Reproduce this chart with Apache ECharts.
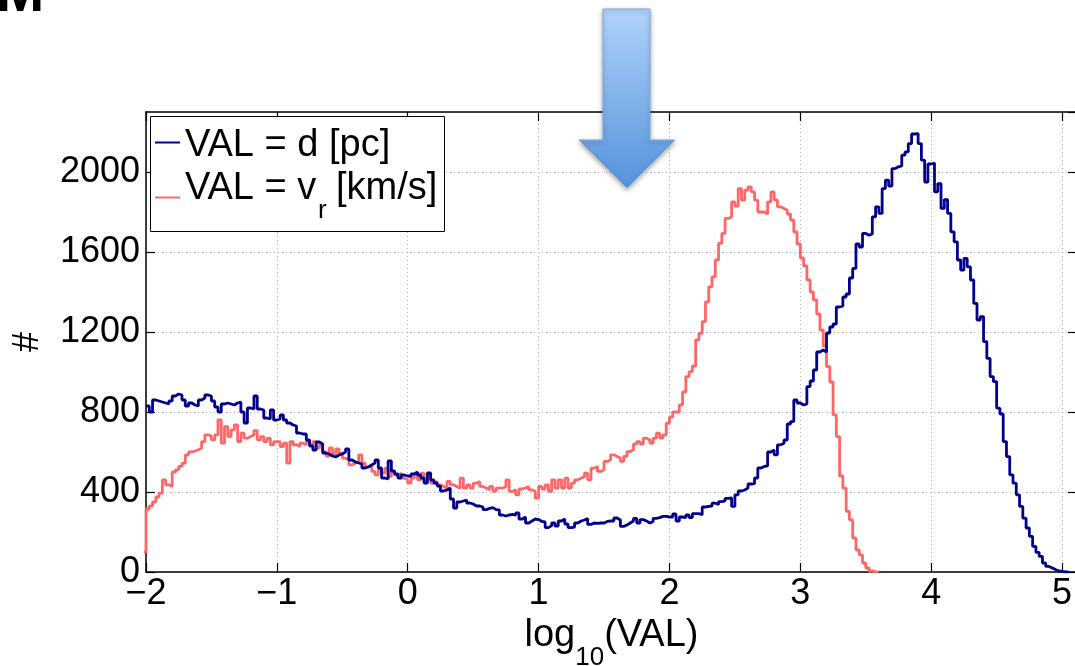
<!DOCTYPE html>
<html><head><meta charset="utf-8">
<script src="https://cdn.jsdelivr.net/npm/echarts@6/dist/echarts.min.js"></script>
<style>html,body{margin:0;padding:0;background:#fff}#c{width:1075px;height:666px}</style>
</head><body><div id="c"></div>
<script>
// Histogram bin width (log10 units)
const binWidth = 0.025;
// VAL = d [pc]  (bins start at -2)
const dStart = -2;
const dCounts = [
830,800,860,855,850,845,840,855,880,890, 885,860,830,845,835,830,860,870,885,880, 855,825,800,840,845,840,835,845,850,800, 745,820,815,880,815,810,770,765,810,760,
765,785,760,745,735,730,695,690,690,660, 630,610,650,640,595,590,580,575,585,590, 600,615,560,550,545,540,520,525,535,545, 560,520,470,465,555,505,490,470,485,480,
478,490,500,485,470,445,495,460,445,430, 405,410,420,365,320,350,355,360,345,340, 330,330,325,312,318,322,312,310,285,280, 285,288,284,295,265,275,245,255,265,262,
253,250,222,232,245,230,255,265,240,222, 225,245,255,260,268,238,245,243,245,245, 253,255,255,270,260,228,235,245,255,268, 245,262,255,245,253,268,272,278,278,275,
275,290,255,275,272,285,272,292,292,286, 325,328,330,344,338,352,356,368,370,328, 386,405,410,420,440,442,470,520,528,531, 600,610,586,636,644,660,740,752,860,845,
835,840,927,955,1010,1100,1110,1100,1195,1225, 1240,1325,1330,1375,1390,1470,1518,1640,1625,1693, 1684,1690,1776,1826,1793,1917,1959,1930,2017,2026, 2030,2084,2101,2142,2190,2192,2142,2059,1950,2040,
2045,1901,1942,1818,1862,1793,1701,1651,1560,1510, 1568,1526,1460,1343,1260,1277,1152,1068,977,952, 819,790,652,577,486,444,386,328,269,220, 178,128,98,78,45,28,20,12,5,3,
0,0
];
// VAL = v_r [km/s]  (first bin lies just left of the axis)
const vStart = -2.025;
const vCounts = [
100,
315,330,350,375,394,461,436,428,500,511, 528,544,586,600,605,611,619,652,686,680, 661,686,761,644,727,677,711,736,652,694, 669,677,686,707,661,677,652,669,636,652,
652,627,644,544,652,636,627,644,636,652, 636,652,619,636,602,580,620,590,615,594, 569,561,536,544,552,586,544,527,535,503, 486,511,494,519,478,503,486,494,469,461,
444,469,486,461,494,453,486,444,453,436, 428,419,453,436,428,419,469,419,436,419, 444,453,428,420,411,428,403,419,419,428, 461,403,411,386,415,420,428,411,403,369,
428,415,436,403,461,420,461,420,469,420, 444,461,469,478,494,461,519,527,503,511, 553,561,586,578,570,553,578,602,611,640, 652,640,669,660,645,669,694,669,686,744,
775,800,800,836,900,977,1002,1030,1160,1193, 1252,1351,1426,1476,1560,1643,1693,1768,1776,1850, 1830,1917,1860,1909,1926,1901,1859,1800,1800,1790, 1851,1900,1860,1826,1818,1809,1790,1760,1700,1640,
1570,1530,1460,1400,1360,1290,1210,1130,1027,950, 786,677,480,419,303,261,170,111,86,45, 20,5,2,0
];
const xTicks = [-2,-1,0,1,2,3,4,5];
const yTicks = [0,400,800,1200,1600,2000];
const nameD = 'VAL = d [pc]';
const nameV = 'VAL = v_r [km/s]';
const colorD = '#00008c';
const colorV = '#ff6666';

function toSteps(start, counts) {
  const pts = counts.map((c, i) => [start + i * binWidth, c]);
  pts.push([start + counts.length * binWidth, counts[counts.length - 1]]);
  return pts;
}

const FONT = '"Liberation Sans", Arial, Helvetica, sans-serif';
const chart = echarts.init(document.getElementById('c'), null, {renderer: 'canvas'});
const gridLine = {show: true, lineStyle: {color: '#b0b0b0', type: [1, 3], width: 1}};
const axLine = {show: true, onZero: false, lineStyle: {color: '#000', width: 1.5}};
const axTick = {show: true, inside: true, length: 9, lineStyle: {color: '#000', width: 1.2}};

function txt(text, x, y, size) {
  return {type: 'text', x: x, y: y, z: 101,
    style: {text: text, font: size + 'px ' + FONT, fill: '#000', lineHeight: size,
            align: 'left', verticalAlign: 'middle'}};
}

chart.setOption({
  animation: false,
  backgroundColor: '#fff',
  grid: {left: 146, top: 112, width: 931, height: 460, outerBoundsMode: 'none', containLabel: false},
  xAxis: [{
    type: 'value', min: -2, max: 5.114, interval: 1, position: 'bottom',
    axisLine: axLine, axisTick: axTick, splitLine: gridLine,
    axisLabel: {
      margin: 4, color: '#000', fontFamily: FONT, fontSize: 36, showMaxLabel: false,
      formatter: v => xTicks.includes(v) ? (v < 0 ? '\u2212' + (-v) : String(v)) : ''
    },
    name: '{a|log}{b|10}{a|(VAL)}{h| }', nameLocation: 'middle', nameGap: 38,
    nameTextStyle: {
      color: '#000', fontFamily: FONT,
      rich: {
        a: {fontSize: 38, fontFamily: FONT, color: '#000', lineHeight: 44, verticalAlign: 'top'},
        b: {fontSize: 26, fontFamily: FONT, color: '#000', lineHeight: 26, verticalAlign: 'bottom'},
        h: {fontSize: 2, lineHeight: 54, width: 0}
      }
    }
  }, {
    type: 'value', min: -2, max: 5.114, interval: 1, position: 'top',
    axisLine: axLine, axisTick: axTick, splitLine: {show: false}, axisLabel: {show: false}
  }],
  yAxis: [{
    type: 'value', min: 0, max: 2300, interval: 400, position: 'left',
    axisLine: axLine, axisTick: axTick, splitLine: gridLine,
    axisLabel: {
      margin: 6, color: '#000', fontFamily: FONT, fontSize: 36, showMaxLabel: false,
      formatter: v => yTicks.includes(v) ? String(v) : ''
    },
    name: '#', nameLocation: 'middle', nameGap: 100, nameRotate: 90,
    nameTextStyle: {color: '#000', fontFamily: FONT, fontSize: 36}
  }, {
    type: 'value', min: 0, max: 2300, interval: 400, position: 'right',
    axisLine: axLine, axisTick: axTick, splitLine: {show: false}, axisLabel: {show: false}
  }],
  graphic: [
    {
      type: 'polygon', z: 100,
      shape: {points: [[603, 9], [650, 9], [650, 140], [675, 140], [627, 188], [579, 140], [603, 140]]},
      style: {
        fill: new echarts.graphic.LinearGradient(0, 0, 0, 1, [
          {offset: 0, color: '#b0d3fb'}, {offset: 1, color: '#5592dc'}
        ]),
        stroke: '#7da9de', lineWidth: 1,
        shadowBlur: 5, shadowColor: 'rgba(0,0,0,0.35)', shadowOffsetY: 2
      }
    },
    {
      type: 'text', left: -4, top: -34, z: 100,
      style: {text: 'M', font: 'bold 58px ' + FONT, fill: '#000'}
    },
    // legend box
    {type: 'rect', z: 100, shape: {x: 150.5, y: 116.5, width: 294, height: 115},
     style: {fill: '#fff', stroke: '#000', lineWidth: 1}},
    {type: 'line', z: 101, shape: {x1: 155, y1: 142.5, x2: 180, y2: 142.5},
     style: {stroke: colorD, lineWidth: 2}},
    {type: 'line', z: 101, shape: {x1: 155, y1: 197.5, x2: 180, y2: 197.5},
     style: {stroke: colorV, lineWidth: 2}},
    txt('VAL = d [pc]', 185, 146, 38),
    txt('VAL = v', 185, 189, 38),
    txt('r', 318, 211, 26),
    txt('[km/s]', 336, 189, 38)
  ],
  series: [
    {
      name: nameD, type: 'line', step: 'end', data: toSteps(dStart, dCounts),
      showSymbol: false, symbol: 'none', xAxisIndex: 0, yAxisIndex: 0,
      lineStyle: {color: colorD, width: 2.8}, itemStyle: {color: colorD}, z: 3
    },
    {
      name: nameV, type: 'line', step: 'end', data: toSteps(vStart, vCounts),
      showSymbol: false, symbol: 'none', xAxisIndex: 0, yAxisIndex: 0,
      lineStyle: {color: colorV, width: 2.8}, itemStyle: {color: colorV}, z: 2
    }
  ]
});
</script></body></html>
